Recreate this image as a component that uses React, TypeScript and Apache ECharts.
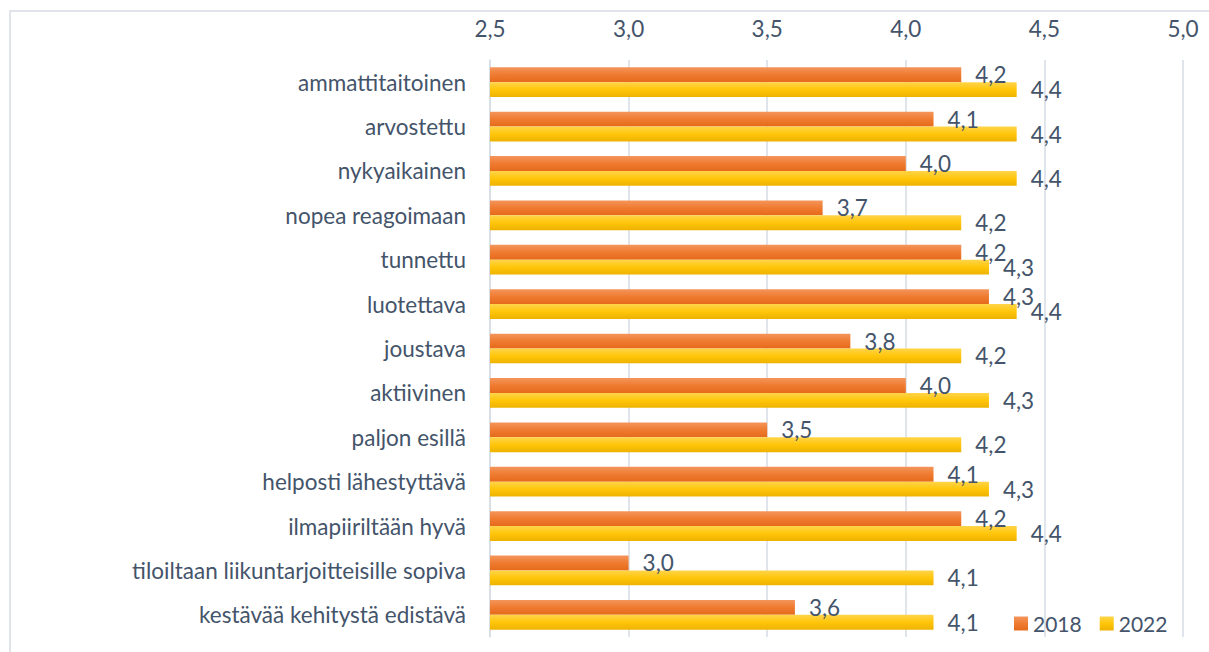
import React, { useEffect, useRef } from "react";
import * as echarts from "echarts";

const categories = [
  "ammattitaitoinen",
  "arvostettu",
  "nykyaikainen",
  "nopea reagoimaan",
  "tunnettu",
  "luotettava",
  "joustava",
  "aktiivinen",
  "paljon esillä",
  "helposti lähestyttävä",
  "ilmapiiriltään hyvä",
  "tiloiltaan liikuntarjoitteisille sopiva",
  "kestävää kehitystä edistävä",
];
const values2018 = [4.2, 4.1, 4.0, 3.7, 4.2, 4.3, 3.8, 4.0, 3.5, 4.1, 4.2, 3.0, 3.6];
const values2022 = [4.4, 4.4, 4.4, 4.2, 4.3, 4.4, 4.2, 4.3, 4.2, 4.3, 4.4, 4.1, 4.1];
const seriesNames = ["2018", "2022"];
const axisMin = 2.5;
const axisMax = 5.0;
const axisStep = 0.5;

const FONT = "Lato, 'Open Sans', sans-serif";
const FS = 22.5;
const TEXT = "#44546A";
const GRIDC = "#D6DCE4";

const fmt = (v: number) => v.toFixed(1).replace(".", ",");

const orangeGrad = new echarts.graphic.LinearGradient(0, 0, 0, 1, [
  { offset: 0, color: "#F4955C" },
  { offset: 0.5, color: "#EF7B30" },
  { offset: 1, color: "#E56A1C" },
]);
const yellowGrad = new echarts.graphic.LinearGradient(0, 0, 0, 1, [
  { offset: 0, color: "#FFD44A" },
  { offset: 0.5, color: "#FFC60A" },
  { offset: 1, color: "#EDB200" },
]);

export default function App() {
  const ref = useRef<HTMLDivElement>(null);
  useEffect(() => {
    document.body.style.margin = "0";
    const chart = echarts.init(ref.current!, null, { renderer: "svg" });
    const labelCommon = {
      show: true,
      position: "right" as const,
      distance: 14,
      color: TEXT,
      fontFamily: FONT,
      fontSize: FS,
      formatter: (p: any) => fmt(p.value),
    };
    chart.setOption({
      animation: false,
      backgroundColor: "#ffffff",
      textStyle: { fontFamily: FONT },
      graphic: [
        {
          type: "rect",
          shape: { x: 10, y: 11, width: 1400, height: 800 },
          style: { fill: "none", stroke: GRIDC, lineWidth: 1.5 },
          silent: true,
          z: -10,
        },
      ],
      grid: { left: 490, right: 26, top: 60, bottom: 15, containLabel: false },
      legend: {
        data: seriesNames,
        left: 1014,
        top: 613,
        padding: 0,
        itemWidth: 14,
        itemHeight: 14,
        itemGap: 18,
        icon: "rect",
        textStyle: { color: TEXT, fontSize: 21, fontFamily: FONT },
      },
      xAxis: {
        type: "value",
        position: "top",
        min: axisMin,
        max: axisMax,
        interval: axisStep,
        axisLine: { show: false },
        axisTick: { show: false },
        axisLabel: {
          color: TEXT,
          fontSize: FS,
          fontFamily: FONT,
          margin: 20,
          formatter: (v: number) => fmt(v),
        },
        splitLine: { show: true, lineStyle: { color: GRIDC, width: 1.5 } },
      },
      yAxis: {
        type: "category",
        data: categories,
        inverse: true,
        axisLine: { show: true, lineStyle: { color: GRIDC, width: 1.5 } },
        axisTick: { show: false },
        axisLabel: { color: TEXT, fontSize: FS, fontFamily: FONT, margin: 24 },
      },
      series: [
        {
          name: seriesNames[0],
          type: "bar",
          data: values2018,
          barGap: "0%",
          barCategoryGap: "33%",
          itemStyle: { color: orangeGrad },
          label: labelCommon,
        },
        {
          name: seriesNames[1],
          type: "bar",
          data: values2022,
          barGap: "0%",
          barCategoryGap: "33%",
          itemStyle: { color: yellowGrad },
          label: labelCommon,
        },
      ],
    });
    return () => chart.dispose();
  }, []);
  return (
    <div
      ref={ref}
      style={{ position: "fixed", left: 0, top: 0, width: 1209, height: 652 }}
    />
  );
}
